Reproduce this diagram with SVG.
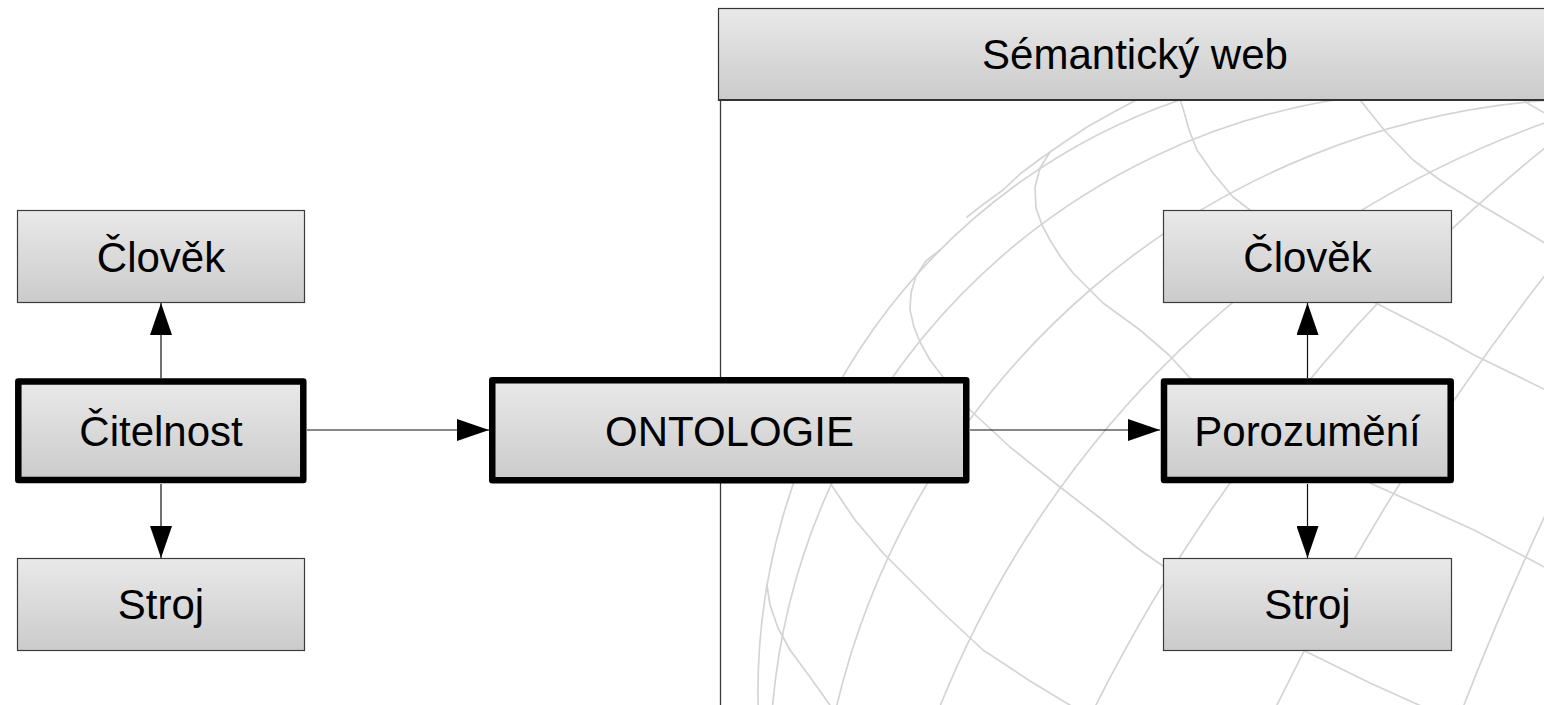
<svg xmlns="http://www.w3.org/2000/svg" width="1544" height="705" viewBox="0 0 1544 705">
  <defs>
    <linearGradient id="boxFill" x1="0" y1="0" x2="0" y2="1">
      <stop offset="0" stop-color="#e9e9e9"/>
      <stop offset="1" stop-color="#cbcbcb"/>
    </linearGradient>
    <clipPath id="panelClip">
      <rect x="721" y="100" width="823" height="605"/>
    </clipPath>
    <marker id="arrow" viewBox="0 0 32 22" refX="32" refY="11" markerWidth="32" markerHeight="22" markerUnits="userSpaceOnUse" orient="auto">
      <path d="M0,0 L32,11 L0,22 z" fill="#000"/>
    </marker>
    <style>
      .box { fill: url(#boxFill); stroke: #3c3c3c; stroke-width: 1.2; }
      .box-bold { fill: url(#boxFill); stroke: #000; stroke-width: 6.5; stroke-linejoin: round; }
      .label { font-family: "Liberation Sans", Arial, sans-serif; font-size: 42px; fill: #000; text-anchor: middle; }
      .grid { fill: none; stroke: #d4d4d4; stroke-width: 1.7; stroke-linejoin: round; stroke-linecap: round; }
      .edge { fill: none; stroke: #111; stroke-width: 1.2; marker-end: url(#arrow); }
    </style>
  </defs>

  <rect x="0" y="0" width="1544" height="705" fill="#fff"/>

  <!-- wireframe globe behind the "Sémantický web" panel -->
  <g id="globe" class="grid" clip-path="url(#panelClip)">
    <!-- arcs converging toward the upper right -->
    <path d="M758.3,710 A625,625 0 0 1 1194.8,95"/>
    <path d="M772.2,710 A674,674 0 0 1 1370.7,95"/>
    <path d="M835.7,710 A792,792 0 0 1 1550,100.1"/>
    <path d="M938.5,710 A1027,1027 0 0 1 1550,121"/>
    <path d="M1093.4,710 A1706.5,1706.5 0 0 1 1550,143.7"/>
    <path d="M1274.5,710 A2454,2454 0 0 1 1550,268.9"/>
    <path d="M1462,710 A3000,3000 0 0 1 1550,505"/>
    <polyline points="967,217 985,203 1003,190 1020,174 1040,159 1063,143 1087,127 1112,113 1140,98"/>
    <!-- crossing curves running down to the right -->
    <polyline points="767,585 770,605 778,628 790,650 810,677 832,708"/>
    <polyline points="811,440 818,460 830,483 855,520 883,553 910,580 940,610 983,650 1030,681 1078,710"/>
    <polyline points="940,250 926,261 916,276 911,293 910,310 914,327 920,342 930,360 943,377 970,410 1010,447 1060,487 1100,518 1140,550 1163,566 1230,610 1309,653 1370,683 1430,710"/>
    <polyline points="1050,152 1040,168 1035,187 1036,208 1042,225 1050,240 1060,256 1073,273 1103,303 1140,330 1169,355 1190,378 1280,432 1370,483 1474,530 1550,570"/>
    <polyline points="1180,99 1185,115 1189,130 1197,150 1213,173 1233,197 1250,210 1310,258 1370,300 1444,338 1474,355 1550,392"/>
    <polyline points="1358,97 1368,110 1385,131 1413,160 1440,180 1474,201 1550,246"/>
    <polyline points="1520,98 1527,103 1550,116"/>
  </g>

  <!-- panel frame and title bar -->
  <g id="panel">
    <line x1="720.5" y1="100" x2="720.5" y2="705" stroke="#3a3a3a" stroke-width="1.3"/>
    <rect x="718.5" y="8.5" width="900" height="91.5" fill="url(#boxFill)" stroke="#333" stroke-width="1.2"/>
    <line x1="718" y1="100" x2="1544" y2="100" stroke="#333" stroke-width="2"/>
    <text class="label" x="1135" y="69">Sémantický web</text>
  </g>

  <!-- connectors -->
  <g id="connectors">
    <path class="edge" d="M161,378 L161,303"/>
    <path class="edge" d="M161,484 L161,558"/>
    <path class="edge" d="M307,430 L489,430"/>
    <path class="edge" d="M970,430 L1160,430"/>
    <path class="edge" d="M1307.5,378 L1307.5,303"/>
    <path class="edge" d="M1307.5,484 L1307.5,558"/>
  </g>

  <!-- nodes -->
  <g id="clovek-left">
    <rect class="box" x="17.5" y="210.5" width="287" height="92"/>
    <text class="label" x="161" y="272">Člověk</text>
  </g>
  <g id="citelnost">
    <rect class="box-bold" x="18.3" y="381.5" width="285" height="98.5"/>
    <text class="label" x="161" y="446">Čitelnost</text>
  </g>
  <g id="stroj-left">
    <rect class="box" x="17.5" y="558.5" width="287" height="92"/>
    <text class="label" x="161" y="619">Stroj</text>
  </g>
  <g id="ontologie">
    <rect class="box-bold" x="492.25" y="380.25" width="474" height="100"/>
    <text class="label" x="729.5" y="446">ONTOLOGIE</text>
  </g>
  <g id="clovek-right">
    <rect class="box" x="1163.5" y="210.5" width="288" height="92"/>
    <text class="label" x="1307.5" y="272">Člověk</text>
  </g>
  <g id="porozumeni">
    <rect class="box-bold" x="1164" y="381.5" width="286.7" height="98.5"/>
    <text class="label" x="1307.5" y="446">Porozumění</text>
  </g>
  <g id="stroj-right">
    <rect class="box" x="1163.5" y="558.5" width="288" height="92"/>
    <text class="label" x="1307.5" y="619">Stroj</text>
  </g>
</svg>
